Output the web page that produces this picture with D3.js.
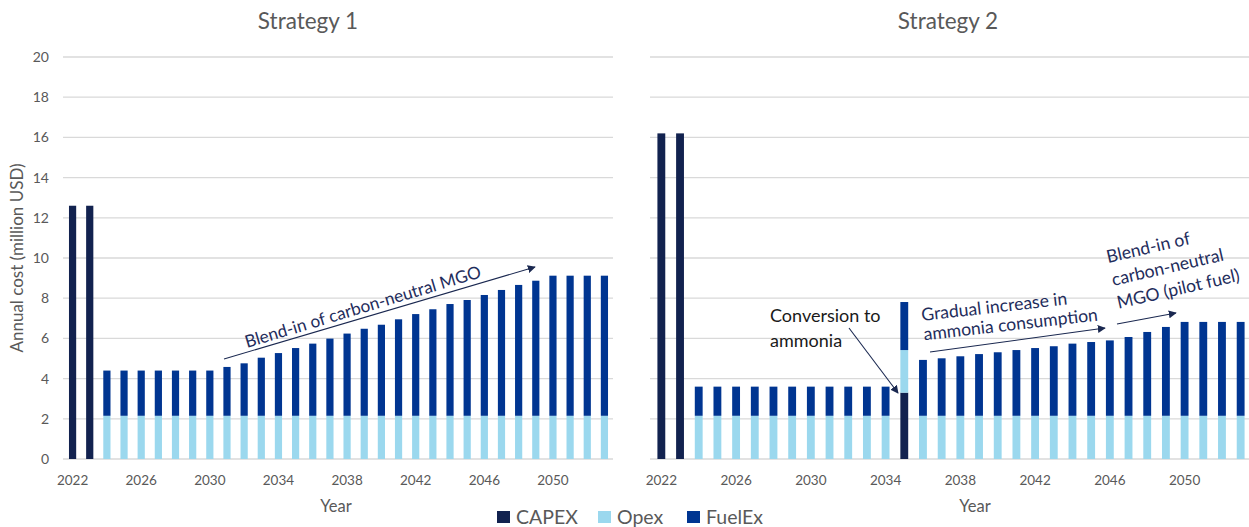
<!DOCTYPE html>
<html>
<head>
<meta charset="utf-8">
<script src="https://cdn.jsdelivr.net/npm/d3@7"></script>
<style>
  body { margin: 0; background: #fff; }
  svg { display: block; font-family: Lato, "Open Sans", sans-serif; }
</style>
</head>
<body>
<svg id="chart" width="1249" height="527"></svg>
<script>
// categories
var years = [2022, 2023, 2024, 2025, 2026, 2027, 2028, 2029, 2030, 2031, 2032,
    2033, 2034, 2035, 2036, 2037, 2038, 2039, 2040, 2041, 2042, 2043, 2044,
    2045, 2046, 2047, 2048, 2049, 2050, 2051, 2052, 2053];
var tickYears = [2022, 2026, 2030, 2034, 2038, 2042, 2046, 2050];
var yTicks = [0, 2, 4, 6, 8, 10, 12, 14, 16, 18, 20];
var seriesNames = ["CAPEX", "Opex", "FuelEx"];

// Strategy 1 (million USD)
var s1Capex = [12.6, 12.6, 0, 0, 0, 0, 0, 0, 0, 0, 0, 0, 0, 0, 0, 0, 0, 0, 0, 0,
    0, 0, 0, 0, 0, 0, 0, 0, 0, 0, 0, 0];
var s1Opex = [0, 0, 2.15, 2.15, 2.15, 2.15, 2.15, 2.15, 2.15, 2.15, 2.15, 2.15,
    2.15, 2.15, 2.15, 2.15, 2.15, 2.15, 2.15, 2.15, 2.15, 2.15, 2.15, 2.15, 2.15,
    2.15, 2.15, 2.15, 2.15, 2.15, 2.15, 2.15];
var s1Fuel = [0, 0, 2.25, 2.25, 2.25, 2.25, 2.25, 2.25, 2.25, 2.43, 2.61, 2.89,
    3.12, 3.37, 3.59, 3.84, 4.09, 4.33, 4.53, 4.80, 5.06, 5.30, 5.56, 5.76, 6.01,
    6.26, 6.51, 6.72, 6.97, 6.97, 6.97, 6.97];

// Strategy 2 (million USD)
var s2Capex = [16.2, 16.2, 0, 0, 0, 0, 0, 0, 0, 0, 0, 0, 0, 3.3, 0, 0, 0, 0, 0, 0,
    0, 0, 0, 0, 0, 0, 0, 0, 0, 0, 0, 0];
var s2Opex = [0, 0, 2.15, 2.15, 2.15, 2.15, 2.15, 2.15, 2.15, 2.15, 2.15, 2.15,
    2.15, 2.12, 2.15, 2.15, 2.15, 2.15, 2.15, 2.15, 2.15, 2.15, 2.15, 2.15, 2.15,
    2.15, 2.15, 2.15, 2.15, 2.15, 2.15, 2.15];
var s2Fuel = [0, 0, 1.45, 1.45, 1.45, 1.45, 1.45, 1.45, 1.45, 1.45, 1.45, 1.45,
    1.45, 2.39, 2.78, 2.86, 2.96, 3.07, 3.16, 3.27, 3.37, 3.46, 3.59, 3.67, 3.75,
    3.92, 4.17, 4.42, 4.67, 4.67, 4.67, 4.67];

var colors = { CAPEX: "#12224f", Opex: "#9bd8ee", FuelEx: "#003591" };
var gridColor = "#d9d9d9";
var labelColor = "#595959";
var noteColor = "#1f2d5c";

var svg = d3.select("#chart");

var defs = svg.append("defs");
defs.append("marker")
    .attr("id", "arrow")
    .attr("viewBox", "0 0 10 10")
    .attr("refX", 9).attr("refY", 5)
    .attr("markerWidth", 8).attr("markerHeight", 8)
    .attr("markerUnits", "userSpaceOnUse")
    .attr("orient", "auto")
    .append("path")
    .attr("d", "M0,0 L10,5 L0,10 Z")
    .attr("fill", "#1a2850");

var y = d3.scaleLinear().domain([0, 20]).range([459, 57]);

function buildRows(capex, opex, fuel) {
    return years.map(function(yr, i) {
        return { year: yr, CAPEX: capex[i], Opex: opex[i], FuelEx: fuel[i] };
    });
}

var stack = d3.stack().keys(seriesNames);

function drawPanel(opts) {
    var x = d3.scaleBand()
        .domain(years)
        .range(opts.xRange)
        .paddingInner(0.58)
        .paddingOuter(0.29);

    var g = svg.append("g");

    // gridlines
    g.append("g")
        .selectAll("line")
        .data(yTicks)
        .join("line")
        .attr("x1", opts.gridRange[0])
        .attr("x2", opts.gridRange[1])
        .attr("y1", d => y(d))
        .attr("y2", d => y(d))
        .attr("stroke", gridColor)
        .attr("stroke-width", 1.3);

    // stacked bars
    var layers = stack(opts.rows);
    g.append("g")
        .selectAll("g")
        .data(layers)
        .join("g")
        .attr("fill", d => colors[d.key])
        .selectAll("rect")
        .data(d => d.filter(p => p[1] - p[0] > 0))
        .join("rect")
        .attr("x", d => x(d.data.year))
        .attr("width", x.bandwidth())
        .attr("y", d => y(d[1]))
        .attr("height", d => y(d[0]) - y(d[1]));

    // x axis labels
    g.append("g")
        .selectAll("text")
        .data(tickYears)
        .join("text")
        .attr("x", d => x(d) + x.bandwidth() / 2)
        .attr("y", 485)
        .attr("text-anchor", "middle")
        .attr("fill", labelColor)
        .style("font-size", "13.5px")
        .text(d => d);

    g.append("text")
        .attr("x", opts.yearX)
        .attr("y", 512)
        .attr("text-anchor", "middle")
        .attr("fill", labelColor)
        .style("font-size", "16.5px")
        .text("Year");

    g.append("text")
        .attr("x", opts.titleX)
        .attr("y", 29)
        .attr("text-anchor", "middle")
        .attr("fill", labelColor)
        .style("font-size", "22.5px")
        .text(opts.title);

    return x;
}

drawPanel({
    rows: buildRows(s1Capex, s1Opex, s1Fuel),
    xRange: [64, 613],
    gridRange: [63, 613],
    yearX: 336,
    titleX: 308,
    title: "Strategy 1"
});

drawPanel({
    rows: buildRows(s2Capex, s2Opex, s2Fuel),
    xRange: [652, 1250],
    gridRange: [650, 1249],
    yearX: 975,
    titleX: 948,
    title: "Strategy 2"
});

// y axis labels (left panel only)
svg.append("g")
    .selectAll("text")
    .data(yTicks)
    .join("text")
    .attr("x", 49)
    .attr("y", d => y(d) + 5)
    .attr("text-anchor", "end")
    .attr("fill", labelColor)
    .style("font-size", "14px")
    .text(d => d);

svg.append("text")
    .attr("transform", "translate(23,258) rotate(-90)")
    .attr("text-anchor", "middle")
    .attr("fill", labelColor)
    .style("font-size", "17px")
    .text("Annual cost (million USD)");

// annotations
function arrow(x1, y1, x2, y2) {
    svg.append("line")
        .attr("x1", x1).attr("y1", y1)
        .attr("x2", x2).attr("y2", y2)
        .attr("stroke", "#1a2850")
        .attr("stroke-width", 1.1)
        .attr("marker-end", "url(#arrow)");
}

function note(x0, y0, angle, lines, lineH, size, color) {
    var t = svg.append("text")
        .attr("transform", "translate(" + x0 + "," + y0 + ") rotate(" + angle + ")")
        .attr("fill", color)
        .style("font-size", size + "px");
    lines.forEach(function(s, i) {
        t.append("tspan").attr("x", 0).attr("y", i * lineH).text(s);
    });
}

arrow(224, 359, 535, 267);
note(247, 348, -16.8, ["Blend-in of carbon-neutral MGO"], 0, 17.2, noteColor);

note(770, 322, 0, ["Conversion to", "ammonia"], 24.5, 18, "#1a1a1a");
arrow(849, 328, 898, 393);

note(922, 321, -6.5, ["Gradual increase in", "ammonia consumption"], 19.5, 17.6, noteColor);
arrow(930, 352, 1105, 328);

note(1108, 263, -13, ["Blend-in of", "carbon-neutral", "MGO (pilot fuel)"], 23.5, 17.6, noteColor);
arrow(1117, 324, 1176, 313);

// legend
var legendX = [497, 598, 687];
var legend = svg.append("g")
    .selectAll("g")
    .data(seriesNames)
    .join("g")
    .attr("transform", (d, i) => "translate(" + legendX[i] + ",511)");

legend.append("rect")
    .attr("width", 13)
    .attr("height", 12)
    .attr("fill", d => colors[d]);

legend.append("text")
    .attr("x", 19)
    .attr("y", 12.5)
    .attr("fill", labelColor)
    .style("font-size", "19.5px")
    .text(d => d);
</script>
</body>
</html>
